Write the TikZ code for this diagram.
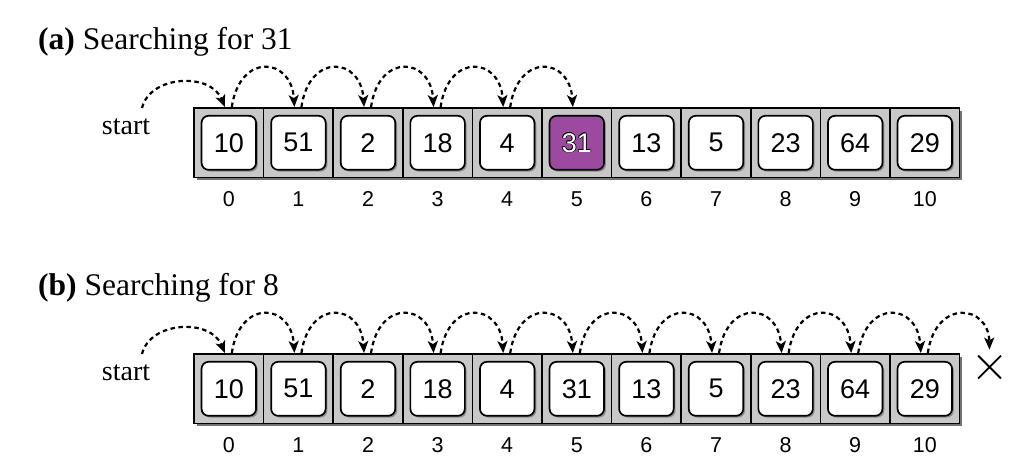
\documentclass[tikz,border=0pt]{standalone}
\usepackage{fontspec}
\setmainfont{Liberation Serif}
\newfontfamily\numfont{Liberation Sans}
\usetikzlibrary{arrows.meta,shadows,shapes.misc,calc}
\definecolor{cellgray}{HTML}{C8C8C8}
\definecolor{hitpurple}{HTML}{9B4A9F}
\newcommand\fmtplain[1]{#1}
\newcommand\fmthit[1]{\leavevmode
  \rlap{\hspace{-0.8pt}\textcolor{black}{#1}}%
  \rlap{\hspace{0.8pt}\textcolor{black}{#1}}%
  \rlap{\raisebox{0.8pt}{\textcolor{black}{#1}}}%
  \rlap{\raisebox{-0.8pt}{\textcolor{black}{#1}}}%
  \rlap{\hspace{0.6pt}\raisebox{-0.6pt}{\textcolor{black}{#1}}}%
  \rlap{\hspace{-0.6pt}\raisebox{0.6pt}{\textcolor{black}{#1}}}%
  \textcolor{white}{#1}}
\tikzset{
  cellbox/.style={draw=black, line width=1.6pt, fill=cellgray,
    minimum width=69.6pt, minimum height=69.5pt, inner sep=0pt, outer sep=0pt,
    drop shadow={shadow xshift=2.5pt, shadow yshift=-2.5pt, fill=black!55, opacity=1}},
  valbox/.style={draw=black, line width=1.7pt, fill=white, rounded corners=7pt,
    minimum width=54.5pt, minimum height=54pt, inner sep=0pt,
    font=\numfont\fontsize{27}{31}\selectfont,
    drop shadow={shadow xshift=1.8pt, shadow yshift=-1.8pt, fill=black!45, opacity=1}},
  plain/.style={},
  hit/.style={fill=hitpurple},
  idx/.style={font=\numfont\fontsize{21.5}{25}\selectfont, inner sep=0pt},
  hop/.style={line width=2.2pt, dash pattern=on 4.5pt off 3.5pt,
    -{Stealth[length=12pt,width=10pt,inset=3pt]}},
  title/.style={anchor=base west, inner sep=0pt, font=\fontsize{31.5}{36}\selectfont},
  startlbl/.style={font=\fontsize{28}{32}\selectfont, inner sep=0pt},
  xmark/.style={draw, cross out, line width=1.8pt, minimum size=21pt, inner sep=0pt}
}
\begin{document}
\begin{tikzpicture}[x=1pt,y=-1pt]
\useasboundingbox (0,0) rectangle (1024,471);
% ---------- panel (a) ----------
\node[title] (ta) at (38,49.5) {\textbf{(a)} Searching for 31};
\node[startlbl] (sla) at (126,127) {start};
\coordinate (sa) at (142,108);
\foreach \v/\s [count=\i from 0] in {10/plain,51/plain,2/plain,18/plain,4/plain,31/hit,13/plain,5/plain,23/plain,64/plain,29/plain}{
  \node[cellbox] (a\i) at ({228.8+69.6*\i},142.8) {};
  \node[valbox,\s] (va\i) at (a\i) {\csname fmt\s\endcsname{\v}};
  \node[idx] (ia\i) at ($(a\i)+(0,56.5)$) {\i};
}
\draw[hop] (sa) .. controls +(8,-33) and +(-14,-35) .. ([xshift=-4pt,yshift=1pt]a0.north);
\foreach \i [evaluate=\i as \j using int(\i+1)] in {0,...,4}{
  \draw[hop] ([xshift=3pt,yshift=1pt]a\i.north) .. controls +(8,-55) and +(-3,-50) .. ([xshift=-4pt,yshift=1pt]a\j.north);
}
% ---------- panel (b) ----------
\node[title] (tb) at (38,295.5) {\textbf{(b)} Searching for 8};
\node[startlbl] (slb) at (126,373) {start};
\coordinate (sb) at (142,354);
\foreach \v [count=\i from 0] in {10,51,2,18,4,31,13,5,23,64,29}{
  \node[cellbox] (b\i) at ({228.8+69.6*\i},388.8) {};
  \node[valbox] (vb\i) at (b\i) {\v};
  \node[idx] (ib\i) at ($(b\i)+(0,56.5)$) {\i};
}
\node[xmark] (xm) at (989.5,367) {};
\draw[hop] (sb) .. controls +(8,-33) and +(-14,-35) .. ([xshift=-4pt,yshift=1pt]b0.north);
\foreach \i [evaluate=\i as \j using int(\i+1)] in {0,...,9}{
  \draw[hop] ([xshift=3pt,yshift=1pt]b\i.north) .. controls +(8,-55) and +(-3,-50) .. ([xshift=-4pt,yshift=1pt]b\j.north);
}
\draw[hop] ([xshift=3pt,yshift=1pt]b10.north) .. controls +(8,-55) and +(-1,-45) .. ([yshift=6pt]xm.north);
\end{tikzpicture}
\end{document}
